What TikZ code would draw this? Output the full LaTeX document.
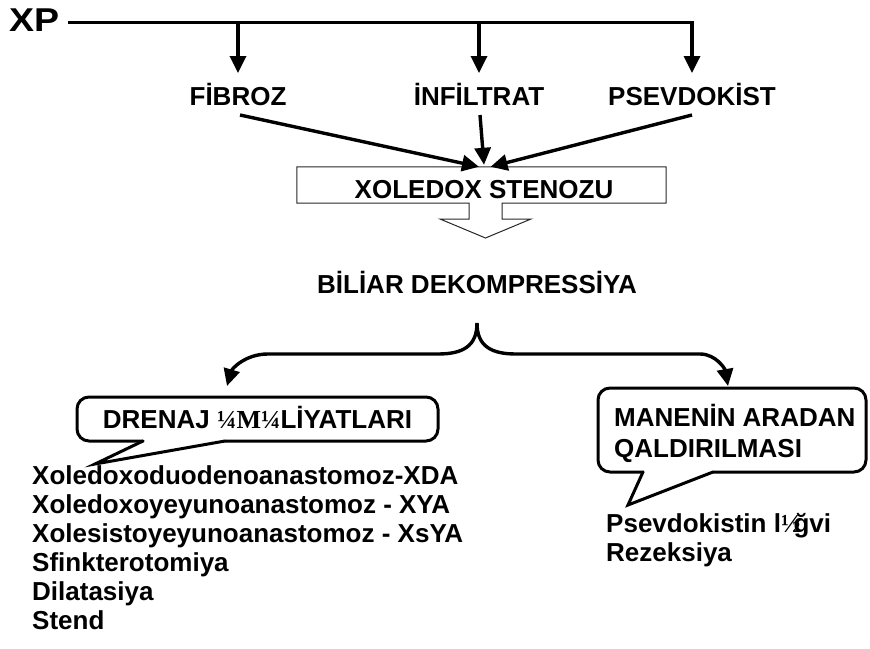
\documentclass[tikz,border=0pt]{standalone}
\usepackage{fontspec}
\setmainfont{Liberation Sans}
\newfontfamily\serifsym{Liberation Serif}
\usetikzlibrary{arrows.meta,calc}
\begin{document}
\begin{tikzpicture}[x=1pt,y=-1pt,
  hd/.style={font=\fontsize{26}{29}\selectfont\bfseries, inner sep=0pt},
  conn/.style={line width=3.4pt, -{Triangle[length=17pt,width=16pt]}},
  bubble/.style={line width=3pt, line cap=round},
  thinbox/.style={line width=1pt, draw=black!85}]
\useasboundingbox (0,0) rectangle (870,648);

% top
\node[font=\fontsize{30}{32}\selectfont\bfseries, inner sep=0pt, anchor=base west] (xp) at (9,31) {\scalebox{1.25}[1.1]{XP}};
\coordinate (ls) at ($(xp.base east)+(9,-8.5)$);

\node[hd, anchor=base] (fib) at (238,105) {FİBROZ};
\node[hd, anchor=base] (inf) at (479,105) {İNFİLTRAT};
\node[hd, anchor=base] (psev) at (692,105) {PSEVDOKİST};

\draw[conn] (ls) -| ($(psev.base)+(0,-32)$);
\draw[conn] (fib.base |- ls) -- ($(fib.base)+(0,-32)$);
\draw[conn] (inf.base |- ls) -- ($(inf.base)+(0,-32)$);

% box
\node[minimum width=369pt, minimum height=36pt, inner sep=0pt] (box) at (481.5,185) {};
\node[hd, anchor=base] (xs) at (484,198) {XOLEDOX STENOZU};
\coordinate (ar) at (485.5,203);
\draw[thinbox] ($(ar)+(-16.5,0)$) -- (box.south west) -- (box.north west) -- (box.north east) -- (box.south east) -- ($(ar)+(16.5,0)$) -- ++(0,16) -- ++(29,0) -- ($(ar)+(0,35)$) -- ($(ar)+(-45.5,16)$) -- ++(29,0) -- cycle;

\draw[conn] ($(fib.base)+(2,10)$) -- ($(box.north)+(-2.5,0)$);
\draw[conn] ($(inf.base)+(1,10)$) -- ($(box.north)+(2.5,-2)$);
\draw[conn] ($(psev.base)+(0,10)$) -- ($(box.north)+(9,0)$);

% decompression
\node[hd, anchor=base] (bd) at (477,293) {BİLİAR DEKOMPRESSİYA};
\coordinate (peak) at (477,323);
\coordinate (lt) at (227,386);
\coordinate (rt) at (728,386);
\draw[conn] (peak) .. controls (477,346) and (463,354) .. (438,354) -- (268,354) .. controls (245,354) and (232,369) .. (lt);
\draw[conn] (peak) .. controls (477,346) and (491,354) .. (516,354) -- (700,354) .. controls (716,354) and (725,369) .. (rt);

% left bubble
\draw[bubble, rounded corners=12pt] (143,441) -- (77,441) -- (77,397) -- (438,397) -- (438,441) -- (225,441);
\draw[bubble, line join=miter] (143,441) -- (95,464) -- (225,441);
\node[hd, anchor=base] (dren) at (257.5,428) {DRENAJ {\serifsym ¼M¼}LİYATLARI};

% right bubble
\draw[bubble, rounded corners=12pt] (643,472) -- (598,472) -- (598,388) -- (866,388) -- (866,472) -- (713,472);
\draw[bubble, line join=miter] (643,472) -- (628,505) -- (713,472);
\node[hd, anchor=base west] (man1) at (614,426) {MANENİN ARADAN};
\node[hd, anchor=base west] (man2) at (614,457) {QALDIRILMASI};

% left list
\node[hd, anchor=base west] (l1) at (32,484) {Xoledoxoduodenoanastomoz-XDA};
\node[hd, anchor=base west] (l2) at (32,513) {Xoledoxoyeyunoanastomoz - XYA};
\node[hd, anchor=base west] (l3) at (32,542) {Xolesistoyeyunoanastomoz - XsYA};
\node[hd, anchor=base west] (l4) at (32,571) {Sfinkterotomiya};
\node[hd, anchor=base west] (l5) at (32,600) {Dilatasiya};
\node[hd, anchor=base west] (l6) at (32,629) {Stend};

% right list
\node[hd, anchor=base west] (r1) at (606,532) {Psevdokistin l{\serifsym ½}\kern-7pt ğvi};
\node[hd, anchor=base west] (r2) at (606,561) {Rezeksiya};
\end{tikzpicture}
\end{document}
